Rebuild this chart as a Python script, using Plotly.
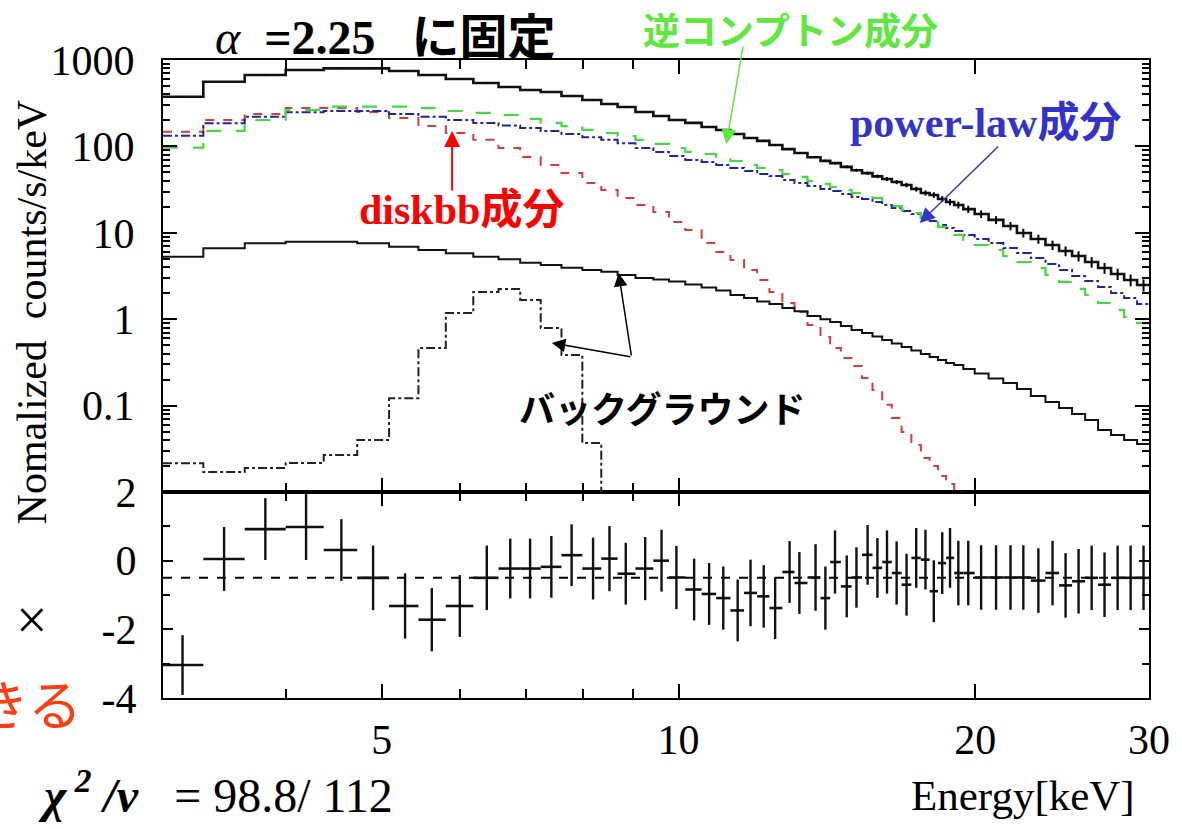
import math
import plotly.graph_objects as go

# ---------------- data ----------------
energy = [3.14, 3.46, 3.81, 4.19, 4.55, 4.90, 5.28, 5.62, 6.00, 6.39,
          6.75, 7.07, 7.43, 7.79, 8.19, 8.51, 8.84, 9.25, 9.61, 9.95,
          10.37, 10.74, 11.10, 11.48, 11.83, 12.20, 12.53, 12.96, 13.26, 13.77,
          14.09, 14.41, 14.81, 15.15, 15.55, 15.91, 16.27, 16.64, 17.03, 17.42,
          17.80, 18.15, 18.51, 18.85, 19.22, 19.67, 20.27, 20.99, 21.71, 22.37,
          23.17, 23.95, 24.69, 25.45, 26.24, 27.04, 27.88, 28.74, 29.62]

total_model = [376, 561, 670, 766, 801, 801, 746, 670, 603, 542,
               487, 450, 427, 383, 344, 310, 286, 250, 225, 202,
               187, 168, 155, 139, 125, 116, 104, 93, 84, 75,
               68, 64, 58, 53, 49, 45, 42, 38.7, 35.7, 32.1,
               28.9, 27.4, 24.6, 22.7, 21.0, 18.8, 16.5, 14.1, 12.0, 9.95,
               8.48, 7.22, 6.15, 5.38, 4.59, 3.91, 3.34, 2.84, 2.49]

inverse_compton = [96.6, 151, 202, 264, 288, 288, 288, 278, 257, 244,
                   231, 208, 187, 172, 155, 143, 132, 119, 107, 95.8,
                   86.1, 81.7, 75.4, 67.8, 60.9, 56.2, 53.3, 47.9, 44.3, 39.8,
                   36.8, 33.9, 31.3, 28.9, 26.7, 25.3, 22.7, 20.4, 18.4, 16.9,
                   14.8, 13.3, 11.7, 10.5, 9.44, 8.26, 7.22, 6.32, 5.38, 4.59,
                   3.91, 3.25, 2.70, 2.24, 1.91, 1.54, 1.28, 1.06, 0.90]

power_law = [133, 185, 221, 248, 257, 257, 237, 221, 202, 187,
             175, 163, 151, 139, 128, 119, 109, 95.8, 86.1, 77.4,
             69.6, 66.0, 60.9, 56.2, 51.9, 47.9, 45.4, 40.8, 37.7, 34.8,
             32.1, 30.5, 28.1, 26.0, 24.6, 22.7, 21.0, 19.4, 17.9, 16.5,
             14.8, 13.7, 12.3, 11.4, 10.5, 9.44, 8.48, 7.62, 6.67, 5.84,
             5.11, 4.36, 3.71, 3.16, 2.77, 2.36, 2.01, 1.76, 1.50]

diskbb = [148, 202, 237, 278, 278, 250, 213, 172, 143, 119,
          95.8, 75.4, 60.9, 49.2, 37.7, 31.3, 25.3, 21.0, 17.4, 13.3,
          10.8, 7.62, 6.00, 4.84, 3.71, 2.84, 2.07, 1.54, 1.21, 0.857,
          0.622, 0.464, 0.356, 0.287, 0.209, 0.152, 0.102, 0.0718, 0.0494, 0.0350,
          0.0248, 0.0200, 0.0153, 0.0124, 0.0098, 0.0075, 0.0055, 0.0040, 0.0028, 0.0020,
          0.0014, 0.0010, 0.0007, 0.0005, 0.00035, 0.00025, 0.00018, 0.00012, 0.00008]

background = [5.29, 6.62, 7.56, 7.89, 7.89, 7.56, 6.90, 6.32, 5.79, 5.29,
              4.93, 4.51, 4.24, 3.95, 3.71, 3.55, 3.25, 3.00, 2.88, 2.73,
              2.52, 2.33, 2.15, 1.91, 1.76, 1.60, 1.50, 1.35, 1.24, 1.09,
              1.00, 0.928, 0.834, 0.750, 0.692, 0.631, 0.574, 0.524, 0.477, 0.435,
              0.395, 0.365, 0.337, 0.311, 0.295, 0.265, 0.235, 0.206, 0.183, 0.156,
              0.129, 0.110, 0.0938, 0.0800, 0.0681, 0.0522, 0.0457, 0.0400, 0.0360]

background_line = [0.0215, 0.0170, 0.0190, 0.0217, 0.0268, 0.0400, 0.122, 0.464,
                   1.18, 2.07, 2.24, 1.67, 0.791, 0.385, 0.037, 0.005]

data_err_frac = [0.005, 0.005, 0.005, 0.005, 0.005, 0.005, 0.005, 0.005, 0.005, 0.005,
                 0.006, 0.006, 0.006, 0.007, 0.007, 0.008, 0.008, 0.009, 0.010, 0.010,
                 0.012, 0.013, 0.014, 0.015, 0.016, 0.018, 0.020, 0.022, 0.024, 0.026,
                 0.030, 0.033, 0.036, 0.040, 0.044, 0.048, 0.052, 0.056, 0.060, 0.065,
                 0.070, 0.075, 0.080, 0.085, 0.090, 0.095, 0.10, 0.105, 0.11, 0.115,
                 0.12, 0.125, 0.13, 0.135, 0.14, 0.145, 0.15, 0.155, 0.16]

residual = [-3.04, 0.05, 0.92, 0.98, 0.31, -0.50, -1.32, -1.72, -1.32, -0.50,
            -0.23, -0.23, -0.18, 0.16, -0.23, 0.06, -0.38, -0.23, 0.00, -0.49,
            -0.84, -0.97, -1.09, -1.45, -0.94, -1.04, -1.38, -0.33, -0.65, -0.49,
            -1.09, -0.04, -0.75, -0.49, 0.17, -0.21, -0.04, -0.36, -0.70, 0.08,
            0.03, -0.89, -0.07, 0.08, -0.36, -0.36, -0.49, -0.49, -0.49, -0.49,
            -0.58, -0.36, -0.72, -0.60, -0.50, -0.70, -0.50, -0.50, -0.50]

residual_err = [0.87, 0.93, 0.90, 0.96, 0.90, 0.94, 0.95, 0.92, 0.90, 0.94,
                0.87, 0.87, 0.90, 0.90, 0.90, 0.95, 0.90, 0.92, 0.90, 0.92,
                0.90, 0.90, 0.92, 0.90, 0.97, 0.91, 0.90, 0.90, 0.90, 0.97,
                0.92, 0.92, 0.90, 0.88, 0.87, 0.87, 0.92, 0.92, 0.90, 0.87,
                0.87, 0.90, 0.90, 0.87, 0.94, 0.94, 0.94, 0.94, 0.94, 0.94,
                0.94, 0.94, 0.94, 0.94, 0.94, 0.94, 0.94, 0.94, 0.94]

residual_model_level = -0.5

x_tick_vals = [5, 10, 20, 30]
x_minor_vals = [4, 6, 7, 8, 9]
y_tick_vals = [0.1, 1, 10, 100, 1000]
y_tick_text = ["0.1", "1", "10", "100", "1000"]
res_tick_vals = [-4, -2, 0, 2]
res_tick_text = ["-4", "-2", "0", "2"]

E_MIN, E_MAX = 3.0, 30.0

# ---------------- derived bin geometry ----------------
edges = [E_MIN] + [math.sqrt(energy[i] * energy[i + 1]) for i in range(len(energy) - 1)] + [E_MAX]
xerr_plus = [edges[i + 1] - energy[i] for i in range(len(energy))]
xerr_minus = [energy[i] - edges[i] for i in range(len(energy))]


def step(vals):
    n = len(vals)
    return edges[:n + 1], list(vals) + [vals[-1]]


SERIF = "Liberation Serif"
JP = "Noto Sans CJK JP"

fig = go.Figure()

for vals, color, dash, width in [
    (diskbb, "#d63c3c", "dash", 2),
    (power_law, "#23239a", "dashdot", 2),
    (inverse_compton, "#45d845", "longdash", 2.2),
    (background_line, "#222222", "dashdot", 2),
    (background, "#111111", "solid", 2),
    (total_model, "#111111", "solid", 2.6),
]:
    xs, ys = step(vals)
    fig.add_trace(go.Scatter(x=xs, y=ys, mode="lines", line_shape="hv",
                             line=dict(color=color, dash=dash, width=width),
                             xaxis="x2", yaxis="y2", hoverinfo="skip"))

fig.add_trace(go.Scatter(
    x=energy, y=total_model, mode="markers", marker=dict(size=1, color="black"),
    error_y=dict(type="data", array=[v * f for v, f in zip(total_model, data_err_frac)],
                 thickness=2, width=0, color="black"),
    xaxis="x2", yaxis="y2"))

fig.add_trace(go.Scatter(
    x=[E_MIN, E_MAX], y=[residual_model_level] * 2, mode="lines",
    line=dict(color="black", dash="dash", width=2), xaxis="x", yaxis="y"))
fig.add_trace(go.Scatter(
    x=energy, y=residual, mode="markers", marker=dict(size=1, color="black"),
    error_y=dict(type="data", array=residual_err, thickness=2.4, width=0, color="#111111"),
    error_x=dict(type="data", array=xerr_plus, arrayminus=xerr_minus, thickness=2.6,
                 width=0, color="#111111"),
    xaxis="x", yaxis="y"))

RES_FRAC = 206 / 638

axis_common = dict(showline=True, linecolor="black", linewidth=2, mirror="ticks",
                   showgrid=False, zeroline=False, ticks="inside", tickcolor="black")

fig.update_layout(
    width=1182, height=829,
    margin=dict(l=163, r=30, t=60, b=131),
    paper_bgcolor="white", plot_bgcolor="white",
    showlegend=False,
    xaxis=dict(type="log", range=[math.log10(E_MIN), math.log10(E_MAX)], anchor="y",
               tickvals=x_tick_vals, ticktext=[str(v) for v in x_tick_vals],
               ticklen=14, tickwidth=2,
               minor=dict(tickvals=x_minor_vals, ticks="inside", ticklen=9, tickwidth=2,
                          tickcolor="black"),
               tickfont=dict(family=SERIF, size=42, color="black"),
               ticklabelstandoff=4, **axis_common),
    xaxis2=dict(type="log", range=[math.log10(E_MIN), math.log10(E_MAX)], anchor="y2",
                matches="x", showticklabels=False,
                tickvals=x_tick_vals, ticklen=14, tickwidth=2,
                minor=dict(tickvals=x_minor_vals, ticks="inside", ticklen=9, tickwidth=2,
                           tickcolor="black"),
                **axis_common),
    yaxis=dict(domain=[0, RES_FRAC], range=[-4, 2],
               tickvals=res_tick_vals, ticktext=res_tick_text, ticklen=10, tickwidth=2,
               minor=dict(dtick=1, ticks="inside", ticklen=7, tickwidth=1.5,
                          tickcolor="black"),
               tickfont=dict(family=SERIF, size=42, color="black"),
               ticklabelstandoff=16, **axis_common),
    yaxis2=dict(domain=[RES_FRAC, 1], type="log", range=[-2, 3],
                tickvals=y_tick_vals, ticktext=y_tick_text, ticklen=14, tickwidth=2,
                minor=dict(tickvals=[m * 10 ** d for d in range(-2, 3) for m in range(2, 10)],
                           ticks="inside", ticklen=7, tickwidth=1.5, tickcolor="black"),
                tickfont=dict(family=SERIF, size=42, color="black"),
                ticklabelstandoff=18, **axis_common),
)


def P(x, y):
    return (x - 163) / 989, (698 - y) / 638


def text(x, y, s, size, color="black", family=SERIF, xanchor="center", angle=0):
    px, py = P(x, y)
    fig.add_annotation(x=px, y=py, xref="paper", yref="paper", text=s, showarrow=False,
                       xanchor=xanchor, yanchor="middle", textangle=angle,
                       font=dict(family=family, size=size, color=color))


def arrow(tx, ty, tail_x, tail_y, color, width, size):
    px, py = P(tx, ty)
    fig.add_annotation(x=px, y=py, xref="paper", yref="paper", text="", showarrow=True,
                       ax=tail_x - tx, ay=tail_y - ty, arrowhead=2, arrowsize=size,
                       arrowwidth=width, arrowcolor=color, standoff=0, startstandoff=0)


NB = "\u00a0"
text(213, 38, "<i>α</i>" + NB + " <b>=2.25</b>" + NB + "  <b>に固定</b>", 48,
     family=SERIF + ", " + JP, xanchor="left")
text(792, 29, "<b>逆コンプトン成分</b>", 37, color="#5ce83c", family=JP)
text(988, 123, "<b>power-law成分</b>", 42, color="#3333cc", family=SERIF + ", " + JP)
text(462, 210, "<b>diskbb成分</b>", 42, color="#ff0000", family=SERIF + ", " + JP)
text(664, 407, "<b>バックグラウンド</b>", 36, family=JP)
text(32, 312, "Nomalized \u00a0counts/s/keV", 42, angle=-90)
text(32, 620, "×", 56)
text(84, 702, "きる", 54, color="#ff3d10", family=JP, xanchor="right")
text(36, 792, "<b><i>χ</i></b><sup><b><i> 2</i></b></sup><b><i> /ν</i></b>" + NB + NB
     + " = 98.8/ 112", 48, xanchor="left")
text(1140, 795, "Energy[keV]", 43, xanchor="right")

arrow(453, 131, 453, 192, "#ff0000", 2, 1.6)
arrow(728, 144, 745, 45, "#5ce83c", 1.5, 2)
arrow(922, 223, 1002, 145, "#3535c8", 1.5, 2)
arrow(620, 273, 633, 357, "black", 1.5, 1.8)
arrow(553, 343, 633, 357, "black", 1.5, 1.8)

fig.write_html("out.html")
